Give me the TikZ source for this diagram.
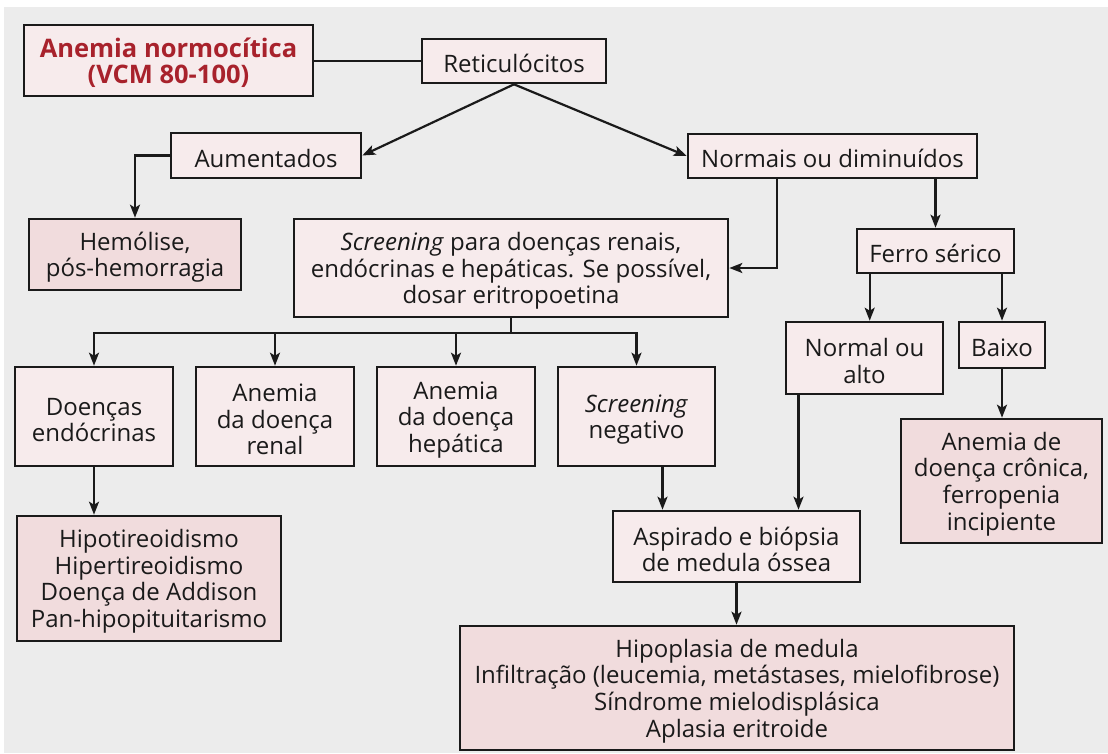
\documentclass[tikz,border=0pt]{standalone}
\usepackage{fontspec}
\setmainfont{Open Sans}
\usetikzlibrary{arrows.meta}
\definecolor{bggray}{HTML}{ECECEC}
\definecolor{boxfill}{HTML}{F7EBEC}
\definecolor{resfill}{HTML}{F1DCDD}
\definecolor{titlered}{HTML}{A8222C}
\definecolor{ink}{HTML}{1A1A1A}
\newcommand{\boxfont}{\fontsize{24}{26.6}\selectfont}
\newcommand{\titlefont}{\fontsize{25.5}{26.6}\selectfont\bfseries}
\newcommand{\toprow}{\rule{0pt}{24pt}}
\begin{document}
\begin{tikzpicture}[x=1pt, y=-1pt]
        \tikzstyle{box}=[draw=ink, line width=2.6pt, fill=boxfill, align=center,
          inner sep=0pt, text=ink, font=\boxfont,
          execute at begin node={\toprow}]
        \tikzstyle{res}=[box, fill=resfill]
        \tikzstyle{link}=[draw=ink, line width=2.2pt]
        \tikzstyle{arr}=[link, -{Stealth[length=13pt, width=10pt, inset=3pt]}]

        \useasboundingbox (0,0) rectangle (1108,753);
        \fill[bggray] (4,7) rectangle (1108,753);

        % top of the tree
        \path (168.5,60.5) node[box, minimum width=289pt, minimum height=71pt,
          text=titlered, font=\titlefont] (anemia)
          {\toprow Anemia normocítica\\(VCM 80-100)};
        \path (514,61) node[box, minimum width=184pt, minimum height=44pt] (retic) {Reticulócitos};
        \path (266,155.5) node[box, minimum width=190pt, minimum height=45pt] (aum) {Aumentados};
        \path (832.5,156) node[box, minimum width=289pt, minimum height=44pt] (normais) {Normais ou diminuídos};
        \path (135,254.5) node[res, minimum width=212pt, minimum height=71pt] (hemo) {\toprow Hemólise,\\pós-hemorragia};
        \path (511,268) node[box, minimum width=434pt, minimum height=98pt] (screen)
          {\toprow\textit{Screening} para doenças renais,\\endócrinas e hepáticas. Se possível,\\dosar eritropoetina};
        \path (935.5,251) node[box, minimum width=157pt, minimum height=44pt] (ferro) {Ferro sérico};

        % second row
        \path (94,416.5) node[box, minimum width=158pt, minimum height=99pt] (endo) {\toprow Doenças\\endócrinas};
        \path (275,416.5) node[box, minimum width=158pt, minimum height=99pt] (renal) {\toprow Anemia\\da doença\\renal};
        \path (456,416.5) node[box, minimum width=158pt, minimum height=99pt] (hepat) {\toprow Anemia\\da doença\\hepática};
        \path (636.5,416.5) node[box, minimum width=157pt, minimum height=99pt] (neg) {\toprow\textit{Screening}\\negativo};
        \path (864.5,358) node[box, minimum width=157pt, minimum height=72pt] (normal) {\toprow Normal ou\\alto};
        \path (1002,345) node[box, minimum width=86pt, minimum height=46pt] (baixo) {Baixo};

        % results
        \path (1001.5,481) node[res, minimum width=201pt, minimum height=124pt] (cron)
          {\toprow Anemia de\\doença crônica,\\ferropenia\\incipiente};
        \path (149,578.5) node[res, minimum width=264pt, minimum height=125pt] (hipo)
          {\toprow Hipotireoidismo\\Hipertireoidismo\\Doença de Addison\\Pan-hipopituitarismo};
        \path (736.5,546.5) node[box, minimum width=247pt, minimum height=71pt] (aspir)
          {\toprow Aspirado e biópsia\\de medula óssea};
        \path (737,688) node[res, minimum width=554pt, minimum height=124pt] (medula)
          {\toprow Hipoplasia de medula\\Infiltração (leucemia, metástases, mielofibrose)\\Síndrome mielodisplásica\\Aplasia eritroide};

        \draw[link] (anemia.east |- retic.west) -- (retic.west);
        \draw[arr] (retic.south) -- (aum.east);
        \draw[arr] (retic.south) -- (normais.west);
        \draw[arr] (aum.west) -| (hemo.north);
        \draw[arr] ([xshift=90pt]normais.south west) |- (screen.east);
        \draw[arr] (ferro.north |- normais.south) -- (ferro.north);

        \foreach \n in {endo, renal, hepat, neg}
        {
          \draw[arr] (screen.south) -- ++(0,15) -| (\n.north);
        }

        \draw[arr] (endo.south) -- (endo.south |- hipo.north);
        \draw[arr] ([xshift=14pt]ferro.south west) -- ([xshift=14pt]ferro.south west |- normal.north);
        \draw[arr] (baixo.north |- ferro.south) -- (baixo.north);
        \draw[arr] (baixo.south) -- (baixo.south |- cron.north);
        \draw[arr] ([xshift=26pt]neg.south) -- ([xshift=26pt]neg.south |- aspir.north);
        \draw[arr] ([xshift=-66pt]normal.south) -- ([xshift=-66pt]normal.south |- aspir.north);
        \draw[arr] (aspir.south) -- (aspir.south |- medula.north);
      \end{tikzpicture}
\end{document}
